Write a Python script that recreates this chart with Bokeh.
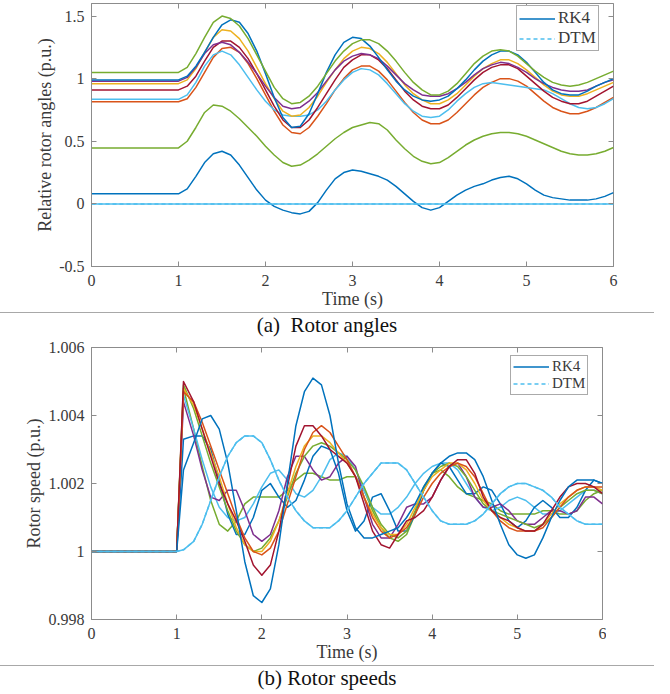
from bokeh.plotting import figure
from bokeh.models import LinearAxis, FixedTicker, Legend, LegendItem, Div, Range1d
from bokeh.layouts import column
from bokeh.embed import file_html
from bokeh.resources import INLINE

# ---------------- data: (a) relative rotor angles (p.u.) ----------------
TIME_A = [0.0, 1.0,
          1.1, 1.2, 1.3, 1.4, 1.5, 1.6, 1.7, 1.8, 1.9, 2.0,
          2.1, 2.2, 2.3, 2.4, 2.5, 2.6, 2.7, 2.8, 2.9, 3.0,
          3.1, 3.2, 3.3, 3.4, 3.5, 3.6, 3.7, 3.8, 3.9, 4.0,
          4.1, 4.2, 4.3, 4.4, 4.5, 4.6, 4.7, 4.8, 4.9, 5.0,
          5.1, 5.2, 5.3, 5.4, 5.5, 5.6, 5.7, 5.8, 5.9, 6.0]

ANG_GREEN_1 = [1.05, 1.05,
               1.09, 1.20, 1.33, 1.45, 1.50, 1.48, 1.42, 1.32, 1.19, 1.06,
               0.93, 0.84, 0.80, 0.81, 0.86, 0.94, 1.04, 1.14, 1.22, 1.28,
               1.31, 1.31, 1.28, 1.22, 1.14, 1.05, 0.97, 0.91, 0.87, 0.87,
               0.90, 0.96, 1.04, 1.12, 1.18, 1.22, 1.23, 1.22, 1.18, 1.12,
               1.06, 1.01, 0.97, 0.95, 0.94, 0.95, 0.97, 1.00, 1.03, 1.06]
ANG_BLUE_1 = [0.99, 0.99,
              1.02, 1.10, 1.21, 1.33, 1.43, 1.47, 1.45, 1.36, 1.22, 1.04,
              0.85, 0.69, 0.61, 0.62, 0.72, 0.88, 1.05, 1.19, 1.29, 1.33,
              1.32, 1.26, 1.17, 1.07, 0.98, 0.91, 0.86, 0.83, 0.82, 0.83,
              0.86, 0.92, 0.99, 1.07, 1.14, 1.19, 1.22, 1.22, 1.19, 1.13,
              1.05, 0.97, 0.91, 0.88, 0.87, 0.87, 0.90, 0.94, 0.97, 1.00]
ANG_PURPLE = [0.98, 0.98,
              1.01, 1.09, 1.20, 1.27, 1.29, 1.27, 1.21, 1.13, 1.04, 0.94,
              0.85, 0.78, 0.76, 0.77, 0.82, 0.89, 0.98, 1.07, 1.14, 1.18,
              1.20, 1.19, 1.16, 1.10, 1.03, 0.96, 0.91, 0.87, 0.86, 0.86,
              0.88, 0.92, 0.97, 1.03, 1.08, 1.11, 1.13, 1.12, 1.09, 1.05,
              1.00, 0.96, 0.93, 0.91, 0.90, 0.90, 0.91, 0.94, 0.97, 0.99]
ANG_YELLOW = [0.96, 0.96,
              0.99, 1.08, 1.21, 1.33, 1.39, 1.38, 1.32, 1.22, 1.09, 0.96,
              0.84, 0.74, 0.70, 0.71, 0.77, 0.86, 0.97, 1.07, 1.16, 1.22,
              1.25, 1.24, 1.20, 1.13, 1.04, 0.95, 0.88, 0.83, 0.80, 0.80,
              0.83, 0.88, 0.95, 1.02, 1.08, 1.12, 1.15, 1.15, 1.12, 1.07,
              1.01, 0.95, 0.90, 0.87, 0.86, 0.86, 0.88, 0.91, 0.94, 0.97]
ANG_DARKRED = [0.91, 0.91,
               0.94, 1.02, 1.14, 1.25, 1.30, 1.30, 1.25, 1.16, 1.04, 0.91,
               0.78, 0.67, 0.61, 0.61, 0.67, 0.77, 0.88, 0.99, 1.09, 1.15,
               1.19, 1.19, 1.15, 1.08, 0.99, 0.90, 0.83, 0.78, 0.76, 0.76,
               0.79, 0.85, 0.92, 0.99, 1.05, 1.09, 1.11, 1.11, 1.08, 1.02,
               0.96, 0.90, 0.85, 0.82, 0.80, 0.80, 0.82, 0.86, 0.90, 0.94]
ANG_LIGHTBLUE_1 = [0.835, 0.835,
                   0.87, 0.97, 1.10, 1.19, 1.22, 1.19, 1.11, 1.01, 0.91, 0.82,
                   0.75, 0.71, 0.70, 0.70, 0.71, 0.75, 0.82, 0.91, 0.99, 1.05,
                   1.08, 1.07, 1.03, 0.96, 0.88, 0.80, 0.74, 0.70, 0.69, 0.70,
                   0.75, 0.82, 0.88, 0.93, 0.96, 0.97, 0.96, 0.95, 0.94, 0.93,
                   0.92, 0.91, 0.88, 0.84, 0.80, 0.77, 0.76, 0.77, 0.80, 0.84]
ANG_ORANGE = [0.816, 0.816,
              0.84, 0.93, 1.05, 1.17, 1.24, 1.25, 1.21, 1.12, 1.00, 0.87,
              0.74, 0.63, 0.57, 0.56, 0.61, 0.70, 0.80, 0.91, 1.00, 1.07,
              1.10, 1.10, 1.06, 0.99, 0.90, 0.81, 0.73, 0.67, 0.64, 0.64,
              0.67, 0.73, 0.80, 0.87, 0.93, 0.97, 1.00, 1.00, 0.98, 0.94,
              0.88, 0.82, 0.77, 0.74, 0.72, 0.72, 0.74, 0.77, 0.81, 0.85]
ANG_GREEN_2 = [0.447, 0.447,
               0.50, 0.61, 0.73, 0.79, 0.78, 0.74, 0.68, 0.61, 0.54, 0.46,
               0.39, 0.33, 0.30, 0.31, 0.35, 0.40, 0.46, 0.52, 0.57, 0.61,
               0.63, 0.65, 0.64, 0.59, 0.51, 0.44, 0.38, 0.34, 0.32, 0.33,
               0.37, 0.42, 0.47, 0.51, 0.54, 0.56, 0.57, 0.57, 0.56, 0.54,
               0.51, 0.48, 0.45, 0.42, 0.40, 0.39, 0.39, 0.40, 0.42, 0.45]
ANG_BLUE_2 = [0.08, 0.08,
              0.12, 0.22, 0.33, 0.40, 0.42, 0.39, 0.31, 0.21, 0.11, 0.03,
              -0.02, -0.05, -0.07, -0.08, -0.06, 0.01, 0.11, 0.20, 0.25, 0.27,
              0.26, 0.24, 0.22, 0.19, 0.14, 0.08, 0.02, -0.03, -0.05, -0.03,
              0.02, 0.07, 0.11, 0.14, 0.16, 0.19, 0.21, 0.22, 0.20, 0.16,
              0.11, 0.07, 0.05, 0.04, 0.03, 0.03, 0.03, 0.04, 0.06, 0.09]
TIME_REF = [0.0, 6.0]
ANG_REF = [0.0, 0.0]

# ---------------- data: (b) rotor speeds (p.u.) ----------------
TIME_B = [0.0, 1.0, 1.08,
          1.2, 1.3, 1.4, 1.5, 1.6, 1.7, 1.8, 1.9, 2.0,
          2.1, 2.2, 2.3, 2.4, 2.5, 2.6, 2.7, 2.8, 2.9, 3.0,
          3.1, 3.2, 3.3, 3.4, 3.5, 3.6, 3.7, 3.8, 3.9, 4.0,
          4.1, 4.2, 4.3, 4.4, 4.5, 4.6, 4.7, 4.8, 4.9, 5.0,
          5.1, 5.2, 5.3, 5.4, 5.5, 5.6, 5.7, 5.8, 5.9, 6.0]

SPD_BLUE_1 = [1.0, 1.0, 1.0024,
              1.0032, 1.0039, 1.0040, 1.0036, 1.0026, 1.0012, 0.9997, 0.9987, 0.9985,
              0.9989, 1.0002, 1.0020, 1.0037, 1.0047, 1.0051, 1.0049, 1.0040, 1.0026, 1.0014,
              1.0007, 1.0004, 1.0004, 1.0005, 1.0006, 1.0007, 1.0010, 1.0014, 1.0019, 1.0023,
              1.0026, 1.0028, 1.0029, 1.0029, 1.0027, 1.0022, 1.0015, 1.0008, 1.0002, 0.9999,
              0.9998, 0.9999, 1.0004, 1.0010, 1.0015, 1.0019, 1.0021, 1.0021, 1.0021, 1.0020]
SPD_ORANGE = [1.0, 1.0, 1.0047,
              1.0044, 1.0038, 1.0031, 1.0024, 1.0017, 1.0010, 1.0004, 1.0000, 0.9999,
              1.0001, 1.0006, 1.0014, 1.0022, 1.0030, 1.0035, 1.0037, 1.0035, 1.0031, 1.0027,
              1.0022, 1.0016, 1.0010, 1.0006, 1.0004, 1.0005, 1.0007, 1.0011, 1.0016, 1.0020,
              1.0023, 1.0025, 1.0026, 1.0025, 1.0022, 1.0017, 1.0012, 1.0009, 1.0007, 1.0006,
              1.0006, 1.0006, 1.0007, 1.0010, 1.0013, 1.0016, 1.0018, 1.0019, 1.0019, 1.0019]
SPD_YELLOW = [1.0, 1.0, 1.0048,
              1.0043, 1.0036, 1.0029, 1.0022, 1.0014, 1.0007, 1.0002, 1.0000, 1.0000,
              1.0003, 1.0009, 1.0017, 1.0025, 1.0031, 1.0034, 1.0034, 1.0032, 1.0029, 1.0026,
              1.0022, 1.0016, 1.0011, 1.0007, 1.0005, 1.0005, 1.0008, 1.0013, 1.0018, 1.0022,
              1.0024, 1.0026, 1.0026, 1.0024, 1.0020, 1.0015, 1.0012, 1.0010, 1.0008, 1.0007,
              1.0006, 1.0006, 1.0008, 1.0011, 1.0014, 1.0016, 1.0018, 1.0019, 1.0019, 1.0018]
SPD_PURPLE = [1.0, 1.0, 1.0044,
              1.0034, 1.0024, 1.0016, 1.0015, 1.0018, 1.0018, 1.0012, 1.0005, 1.0003,
              1.0005, 1.0012, 1.0022, 1.0028, 1.0028, 1.0024, 1.0021, 1.0022, 1.0026, 1.0028,
              1.0025, 1.0016, 1.0008, 1.0004, 1.0004, 1.0008, 1.0013, 1.0014, 1.0014, 1.0016,
              1.0021, 1.0025, 1.0026, 1.0022, 1.0016, 1.0013, 1.0013, 1.0014, 1.0012, 1.0009,
              1.0008, 1.0008, 1.0010, 1.0012, 1.0012, 1.0011, 1.0012, 1.0016, 1.0016, 1.0014]
SPD_GREEN_1 = [1.0, 1.0, 1.0049,
               1.0042, 1.0034, 1.0026, 1.0019, 1.0012, 1.0006, 1.0002, 1.0000, 1.0001,
               1.0004, 1.0009, 1.0016, 1.0023, 1.0028, 1.0031, 1.0032, 1.0031, 1.0029, 1.0027,
               1.0024, 1.0019, 1.0013, 1.0008, 1.0005, 1.0004, 1.0006, 1.0012, 1.0019, 1.0023,
               1.0025, 1.0026, 1.0025, 1.0022, 1.0018, 1.0014, 1.0012, 1.0011, 1.0010, 1.0009,
               1.0008, 1.0007, 1.0008, 1.0010, 1.0013, 1.0015, 1.0017, 1.0018, 1.0018, 1.0017]
SPD_LIGHTBLUE_1 = [1.0, 1.0, 1.0046,
                   1.0036, 1.0027, 1.0019, 1.0013, 1.0010, 1.0009, 1.0010, 1.0014, 1.0019,
                   1.0023, 1.0024, 1.0021, 1.0017, 1.0016, 1.0018, 1.0022, 1.0027, 1.0029, 1.0028,
                   1.0024, 1.0018, 1.0013, 1.0011, 1.0011, 1.0013, 1.0016, 1.0020, 1.0023, 1.0025,
                   1.0026, 1.0026, 1.0024, 1.0020, 1.0016, 1.0013, 1.0012, 1.0013, 1.0015, 1.0016,
                   1.0015, 1.0013, 1.0011, 1.0011, 1.0012, 1.0014, 1.0016, 1.0018, 1.0018, 1.0017]
SPD_DARKRED = [1.0, 1.0, 1.0050,
               1.0044, 1.0036, 1.0028, 1.0020, 1.0014, 1.0009, 1.0003, 0.9996, 0.9993,
               0.9996, 1.0006, 1.0019, 1.0031, 1.0037, 1.0037, 1.0034, 1.0030, 1.0028, 1.0026,
               1.0022, 1.0014, 1.0006, 1.0002, 1.0001, 1.0005, 1.0009, 1.0010, 1.0012, 1.0016,
               1.0021, 1.0025, 1.0027, 1.0027, 1.0023, 1.0016, 1.0012, 1.0010, 1.0009, 1.0007,
               1.0006, 1.0006, 1.0008, 1.0012, 1.0016, 1.0019, 1.0020, 1.0020, 1.0019, 1.0017]
SPD_GREEN_2 = [1.0, 1.0, 1.0048,
               1.0036, 1.0025, 1.0015, 1.0008, 1.0006, 1.0009, 1.0014, 1.0016, 1.0016,
               1.0016, 1.0016, 1.0018, 1.0021, 1.0023, 1.0023, 1.0022, 1.0021, 1.0021, 1.0022,
               1.0022, 1.0018, 1.0012, 1.0007, 1.0004, 1.0003, 1.0005, 1.0011, 1.0018, 1.0023,
               1.0024, 1.0022, 1.0019, 1.0017, 1.0016, 1.0015, 1.0014, 1.0012, 1.0011, 1.0011,
               1.0011, 1.0011, 1.0012, 1.0012, 1.0011, 1.0011, 1.0012, 1.0015, 1.0017, 1.0018]
SPD_BLUE_2 = [1.0, 1.0, 1.0033,
              1.0034, 1.0034, 1.0030, 1.0021, 1.0011, 1.0005, 1.0005, 1.0010, 1.0018,
              1.0020, 1.0016, 1.0013, 1.0015, 1.0021, 1.0028, 1.0031, 1.0030, 1.0023, 1.0012,
              1.0006, 1.0009, 1.0016, 1.0017, 1.0012, 1.0006, 1.0006, 1.0011, 1.0018, 1.0023,
              1.0026, 1.0025, 1.0021, 1.0017, 1.0017, 1.0019, 1.0018, 1.0014, 1.0009, 1.0007,
              1.0009, 1.0013, 1.0015, 1.0013, 1.0010, 1.0010, 1.0013, 1.0018, 1.0021, 1.0020]
SPD_LIGHTBLUE_2 = [1.0, 1.0, 1.00005,
                   1.0003, 1.0008, 1.0015, 1.0022, 1.0028, 1.0032, 1.0034, 1.0034, 1.0032,
                   1.0027, 1.0021, 1.0016, 1.0012, 1.0009, 1.0007, 1.0007, 1.0007, 1.0009, 1.0012,
                   1.0016, 1.0020, 1.0023, 1.0026, 1.0026, 1.0026, 1.0024, 1.0020, 1.0016, 1.0012,
                   1.0009, 1.0008, 1.0008, 1.0008, 1.0009, 1.0011, 1.0014, 1.0017, 1.0019, 1.0020,
                   1.0020, 1.0019, 1.0018, 1.0016, 1.0013, 1.0011, 1.0009, 1.0008, 1.0008, 1.0008]

X_TICKS = [0, 1, 2, 3, 4, 5, 6]
Y_TICKS_A = [-0.5, 0, 0.5, 1, 1.5]
Y_LABELS_A = ["-0.5", "0", "0.5", "1", "1.5"]
Y_TICKS_B = [0.998, 1.0, 1.002, 1.004, 1.006]
Y_LABELS_B = ["0.998", "1", "1.002", "1.004", "1.006"]

# ---------------- style ----------------
BLUE, ORANGE, YELLOW, PURPLE = "#0072BD", "#D95319", "#EDB120", "#7E2F8E"
GREEN, LIGHTBLUE, DARKRED = "#77AC30", "#4DBEEE", "#A2142F"
FONT = ("'Liberation Serif', 'Times New Roman', Times, Tinos, 'DejaVu Serif', "
        "'Noto Serif', FreeSerif, 'Nimbus Roman', Georgia, serif")
AX_COLOR = "#8c8c8c"
TXT_COLOR = "#3a3a3a"
W = 654


def make_fig(fw, fh, y_start, y_end, borders, yticks, ylabels, ylabel, ylab_standoff):
    p = figure(frame_width=fw, frame_height=fh, x_range=Range1d(0, 6), y_range=Range1d(y_start, y_end),
               output_backend="svg", toolbar_location=None,
               min_border_left=borders[0], min_border_right=borders[1],
               min_border_top=borders[2], min_border_bottom=borders[3])
    p.xgrid.visible = False
    p.ygrid.visible = False
    p.outline_line_color = AX_COLOR
    p.outline_line_width = 1
    p.background_fill_color = "white"
    p.border_fill_color = "white"
    xa = p.below[0]
    ya = p.left[0]
    xa.ticker = FixedTicker(ticks=X_TICKS)
    ya.ticker = FixedTicker(ticks=yticks)
    ya.major_label_overrides = {t: l for t, l in zip(yticks, ylabels)}
    xa.axis_label = "Time (s)"
    ya.axis_label = ylabel
    for ax in (xa, ya):
        ax.axis_line_color = AX_COLOR
        ax.major_tick_line_color = AX_COLOR
        ax.major_tick_in = 5
        ax.major_tick_out = 0
        ax.minor_tick_line_color = None
        ax.major_label_text_font = FONT
        ax.major_label_text_font_size = "16px"
        ax.major_label_text_color = TXT_COLOR
        ax.axis_label_text_font = FONT
        ax.axis_label_text_font_size = "18px"
        ax.axis_label_text_font_style = "normal"
        ax.axis_label_text_color = TXT_COLOR
    xa.major_label_standoff = 8
    xa.axis_label_standoff = 0
    ya.major_label_standoff = 7
    ya.axis_label_standoff = ylab_standoff
    # mirrored ticks (MATLAB box): labels not drawn
    for loc, ticks in (("above", X_TICKS), ("right", yticks)):
        m = LinearAxis(ticker=FixedTicker(ticks=ticks), axis_line_color=None,
                       major_tick_line_color=AX_COLOR, major_tick_in=5, major_tick_out=0,
                       minor_tick_line_color=None, major_label_text_font_size="1px",
                       major_label_text_color=None, major_label_standoff=0)
        p.add_layout(m, loc)
    return p


def add_legend(p, r_rk4, r_dtm, loc, fs, lh):
    leg = Legend(items=[LegendItem(label="RK4", renderers=[r_rk4]),
                        LegendItem(label="DTM", renderers=[r_dtm])],
                 location=loc, orientation="vertical",
                 label_text_font=FONT, label_text_font_size=fs, label_text_color=TXT_COLOR,
                 glyph_width=36, glyph_height=lh, label_height=lh, label_standoff=3,
                 spacing=0, padding=2, margin=0,
                 border_line_color="#555555", border_line_width=1,
                 background_fill_color="white", background_fill_alpha=1)
    p.add_layout(leg)


LW = 1.5

# ---- (a) ----
pa = make_fig(522, 263, -0.5, 1.6, (91, 5, 3, 46), Y_TICKS_A, Y_LABELS_A,
              "Relative rotor angles (p.u.)", 1)
series_a = [(ANG_BLUE_2, BLUE), (ANG_GREEN_2, GREEN), (ANG_ORANGE, ORANGE),
            (ANG_LIGHTBLUE_1, LIGHTBLUE), (ANG_DARKRED, DARKRED), (ANG_YELLOW, YELLOW),
            (ANG_PURPLE, PURPLE), (ANG_BLUE_1, BLUE), (ANG_GREEN_1, GREEN)]
rk4_a = None
for vals, col in series_a:
    r = pa.line(TIME_A, vals, line_color=col, line_width=LW, line_join="round")
    if col == BLUE and rk4_a is None:
        rk4_a = r
pa.line(TIME_REF, ANG_REF, line_color=LIGHTBLUE, line_width=LW)
dtm_a = pa.line(TIME_REF, ANG_REF, line_color=LIGHTBLUE, line_width=LW, line_dash="4 3")
add_legend(pa, rk4_a, dtm_a, (425, 215), "17px", 17)

div_a = Div(text=('<div style="width:%dpx;height:24px;border-top:1px solid #a8a8a8;'
                  'text-align:center;font-family:%s;font-size:21px;'
                  'line-height:24px;color:#111;">(a)&nbsp;&nbsp;Rotor angles</div>' % (W, FONT)),
            width=W, height=25, margin=0)

# ---- (b) ----
pb = make_fig(511, 272, 0.998, 1.006, (90, 5, 10, 46), Y_TICKS_B, Y_LABELS_B,
              "Rotor speed (p.u.)", 2)
series_b = [(SPD_GREEN_2, GREEN), (SPD_LIGHTBLUE_1, LIGHTBLUE), (SPD_BLUE_2, BLUE),
            (SPD_PURPLE, PURPLE), (SPD_GREEN_1, GREEN), (SPD_YELLOW, YELLOW),
            (SPD_ORANGE, ORANGE), (SPD_DARKRED, DARKRED), (SPD_BLUE_1, BLUE)]
rk4_b = None
for vals, col in series_b:
    r = pb.line(TIME_B, vals, line_color=col, line_width=LW, line_join="round")
    if vals is SPD_BLUE_1:
        rk4_b = r
pb.line(TIME_B, SPD_LIGHTBLUE_2, line_color=LIGHTBLUE, line_width=LW, line_join="round")
dtm_b = pb.line(TIME_B, SPD_LIGHTBLUE_2, line_color=LIGHTBLUE, line_width=LW,
                line_dash="4 3", line_join="round")
add_legend(pb, rk4_b, dtm_b, (419, 224), "15px", 15)

div_b = Div(text=('<div style="width:%dpx;height:26px;border-top:1px solid #a8a8a8;'
                  'text-align:center;font-family:%s;font-size:21px;'
                  'line-height:25px;color:#111;">(b) Rotor speeds</div>' % (W, FONT)),
            width=W, height=27, margin=0)

layout = column(pa, div_a, pb, div_b, spacing=0)
open("out.html", "w").write(file_html(layout, INLINE))
